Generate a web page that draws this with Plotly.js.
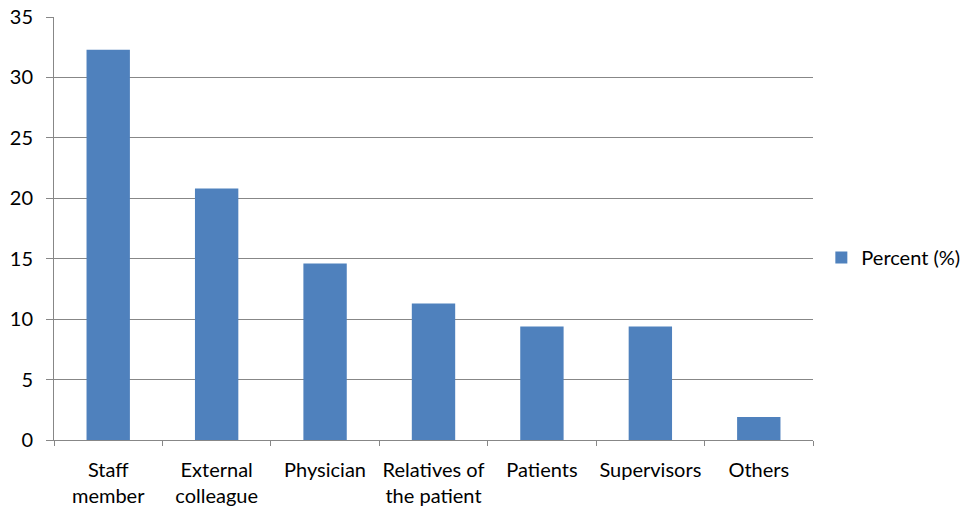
<!DOCTYPE html>
<html>
<head>
<meta charset="utf-8">
<script src="https://cdn.plot.ly/plotly-3.0.1.min.js"></script>
<style>html,body{margin:0;padding:0;background:#fff}#chart{width:972px;height:510px}</style>
</head>
<body>
<div id="chart"></div>
<script>
const categories = ["Staff<br>member", "External<br>colleague", "Physician", "Relatives of<br>the patient", "Patients", "Supervisors", "Others"];
const percentValues = [32.3, 20.8, 14.6, 11.3, 9.4, 9.4, 1.9];
const yTickValues = [0, 5, 10, 15, 20, 25, 30, 35];
const seriesName = "Percent (%)";

const fontFamily = "Lato, 'Open Sans', 'Liberation Sans', sans-serif";
const gridColor = "#878787";

Plotly.newPlot("chart", [{
  type: "bar",
  x: categories,
  y: percentValues,
  name: seriesName,
  marker: {color: "#4f81bd", line: {width: 0}},
  showlegend: true
}], {
  width: 972, height: 510,
  margin: {l: 54, r: 159, t: 17, b: 70},
  paper_bgcolor: "#fff", plot_bgcolor: "#fff",
  font: {family: fontFamily, size: 20, color: "#000"},
  bargap: 0.6,
  showlegend: true,
  legend: {xref: "container", yref: "container", x: 0.845, xanchor: "left", y: 0.495, yanchor: "middle", font: {size: 20}, itemwidth: 30, bgcolor: "rgba(0,0,0,0)"},
  xaxis: {
    type: "category",
    tickson: "boundaries",
    tickangle: 0,
    ticks: "outside", ticklen: 5, tickcolor: gridColor,
    showline: true, linecolor: gridColor, linewidth: 1,
    showgrid: false, fixedrange: true, ticklabelstandoff: 12,
    tickfont: {size: 20}
  },
  yaxis: {
    range: [0, 35],
    tickvals: yTickValues,
    ticks: "outside", ticklen: 7, tickcolor: gridColor,
    showline: true, linecolor: gridColor, linewidth: 1,
    showgrid: true, gridcolor: gridColor, gridwidth: 1,
    zeroline: false, ticklabelstandoff: 9, fixedrange: true,
    tickfont: {size: 20}
  }
}, {displayModeBar: false, staticPlot: true});
</script>
</body>
</html>
